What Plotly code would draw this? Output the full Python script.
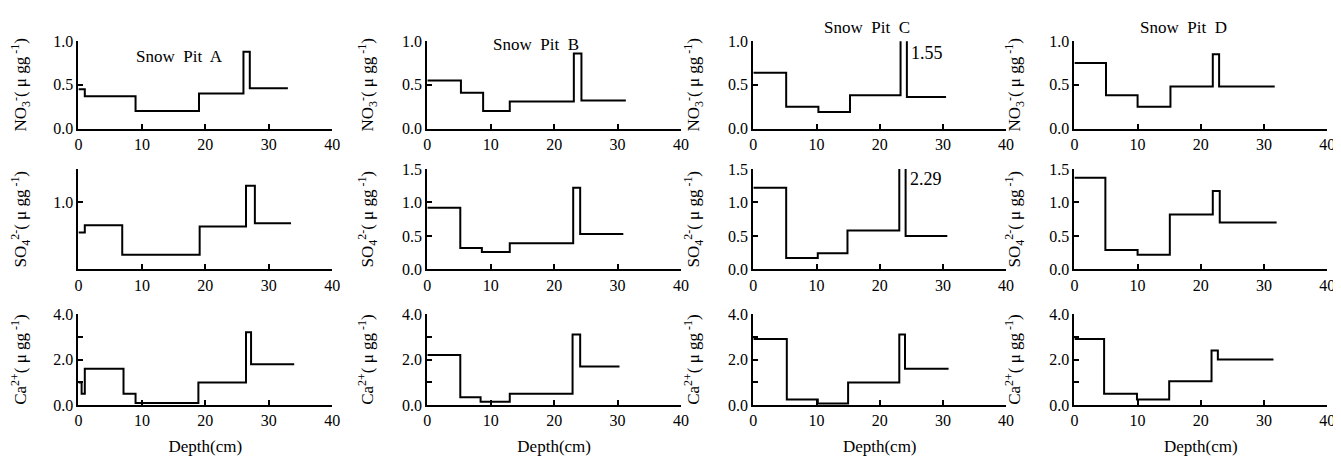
import plotly.graph_objects as go
from plotly.subplots import make_subplots

pits = ["A", "B", "C", "D"]

# layer boundaries (cm) and concentrations (ug/g)
no3_depth_A = [0, 1, 9, 19, 26, 27, 33]
no3_A = [0.45, 0.37, 0.20, 0.40, 0.88, 0.46]
so4_depth_A = [0, 1, 6.9, 19.1, 26.4, 27.8, 33.5]
so4_A = [0.55, 0.66, 0.22, 0.64, 1.25, 0.69]
ca_depth_A = [0, 0.5, 1, 7.1, 9, 18.9, 26.4, 27.2, 34]
ca_A = [1.0, 0.5, 1.6, 0.5, 0.1, 1.0, 3.2, 1.8]

no3_depth_B = [0, 5.3, 8.8, 13, 23.1, 24.3, 31.3]
no3_B = [0.55, 0.41, 0.20, 0.31, 0.86, 0.32]
so4_depth_B = [0, 5.2, 8.6, 13, 23, 24.1, 30.9]
so4_B = [0.92, 0.32, 0.26, 0.39, 1.22, 0.53]
ca_depth_B = [0, 5.2, 8.4, 13, 22.9, 24.1, 30.3]
ca_B = [2.2, 0.35, 0.15, 0.5, 3.1, 1.7]

no3_depth_C = [0, 5.2, 10.3, 15.3, 23.3, 24.3, 30.5]
no3_C = [0.64, 0.25, 0.19, 0.38, 1.55, 0.36]
so4_depth_C = [0, 5.2, 10.2, 14.9, 23.1, 24.1, 30.7]
so4_C = [1.22, 0.17, 0.24, 0.58, 2.29, 0.50]
ca_depth_C = [0, 5.3, 10.2, 15, 23.1, 24, 30.9]
ca_C = [2.9, 0.25, 0.08, 1.0, 3.1, 1.6]

no3_depth_D = [0, 5, 10, 15.2, 21.9, 22.9, 31.7]
no3_D = [0.75, 0.38, 0.25, 0.48, 0.85, 0.48]
so4_depth_D = [0, 4.9, 10, 15.1, 21.9, 23, 32]
so4_D = [1.37, 0.29, 0.22, 0.82, 1.17, 0.70]
ca_depth_D = [0, 4.7, 9.9, 15, 21.7, 22.7, 31.5]
ca_D = [2.9, 0.5, 0.25, 1.05, 2.4, 2.0]

x_ticks = [0, 10, 20, 30, 40]

rows = [
    [(no3_depth_A, no3_A), (no3_depth_B, no3_B), (no3_depth_C, no3_C), (no3_depth_D, no3_D)],
    [(so4_depth_A, so4_A), (so4_depth_B, so4_B), (so4_depth_C, so4_C), (so4_depth_D, so4_D)],
    [(ca_depth_A, ca_A), (ca_depth_B, ca_B), (ca_depth_C, ca_C), (ca_depth_D, ca_D)],
]

y_titles = [
    "NO<sub>3</sub><sup>-</sup>( μ gg<sup> -1</sup>)",
    "SO<sub>4</sub><sup>2-</sup>( μ gg<sup> -1</sup>)",
    "Ca<sup>2+</sup>( μ gg<sup> -1</sup>)",
]
y_ranges = [[0, 1.0], [0, 1.5], [0, 4.0]]
y_tickvals = [[0, 0.5, 1.0], [0, 0.5, 1.0, 1.5], [0, 1, 2, 3, 4]]
y_ticktext = [["0.0", "0.5", "1.0"], ["0.0", "0.5", "1.0", "1.5"], ["0.0", "", "2.0", "", "4.0"]]

# panel positions (paper fractions)
col_dom = [[0.050, 0.241], [0.3125, 0.5034], [0.5578, 0.7480], [0.7994, 0.9896]]
row_dom = [[0.750, 0.944], [0.437, 0.660], [0.135, 0.338]]

FONT = "Liberation Serif"

fig = make_subplots(rows=3, cols=4)

for r in range(3):
    for c in range(4):
        depth, vals = rows[r][c]
        fig.add_trace(go.Scatter(
            x=depth, y=list(vals) + [vals[-1]],
            mode="lines", line=dict(color="black", width=2, shape="hv"),
            showlegend=False, hoverinfo="skip"
        ), row=r + 1, col=c + 1)

        tv, tt = y_tickvals[r], y_ticktext[r]
        if r == 1 and c == 0:
            tv, tt = [1.0], ["1.0"]
        fig.update_xaxes(
            domain=col_dom[c], range=[0, 40], tickvals=x_ticks,
            ticktext=[str(t) for t in x_ticks],
            showline=True, linecolor="black", linewidth=2,
            ticks="inside", ticklen=5, tickwidth=1.5, tickcolor="black",
            showgrid=False, zeroline=False,
            tickfont=dict(family=FONT, size=16, color="black"),
            title=dict(text="Depth(cm)" if r == 2 else "",
                       font=dict(family=FONT, size=17, color="black"), standoff=12),
            row=r + 1, col=c + 1)
        fig.update_yaxes(
            domain=row_dom[r], range=y_ranges[r], tickvals=tv, ticktext=tt,
            showline=True, linecolor="black", linewidth=2,
            ticks="inside", ticklen=5, tickwidth=1.5, tickcolor="black",
            showgrid=False, zeroline=False,
            tickfont=dict(family=FONT, size=16, color="black"),
            title=dict(text=y_titles[r], font=dict(family=FONT, size=17, color="black"),
                       standoff=24),
            row=r + 1, col=c + 1)

# panel titles (A and B sit beside the top tick, C and D above it)
title_pos = [(0.40, 0.96), (0.43, 1.09), (0.45, 1.0), (0.43, 1.0)]
for c, p in enumerate(pits):
    ax = "" if c == 0 else str(c + 1)
    if c >= 2:
        fig.add_annotation(
            text=f"Snow  Pit  {p}", xref=f"x{ax} domain", yref="paper",
            x=title_pos[c][0], y=title_pos[c][1], yanchor="top", showarrow=False,
            font=dict(family=FONT, size=17, color="black"))
    else:
        fig.add_annotation(
            text=f"Snow  Pit  {p}", xref=f"x{ax} domain", yref=f"y{ax} domain",
            x=title_pos[c][0], y=title_pos[c][1], showarrow=False,
            font=dict(family=FONT, size=17, color="black"))

# off-scale peak values in pit C
fig.add_annotation(text="1.55", xref="x3", yref="y3", x=24.6, y=0.86,
                   xanchor="left", showarrow=False,
                   font=dict(family=FONT, size=18, color="black"))
fig.add_annotation(text="2.29", xref="x7", yref="y7", x=24.4, y=1.35,
                   xanchor="left", showarrow=False,
                   font=dict(family=FONT, size=18, color="black"))

fig.update_layout(
    width=1341, height=467,
    margin=dict(l=0, r=0, t=0, b=0),
    plot_bgcolor="white", paper_bgcolor="white",
    font=dict(family=FONT, color="black"),
)

fig.write_html("out.html")
